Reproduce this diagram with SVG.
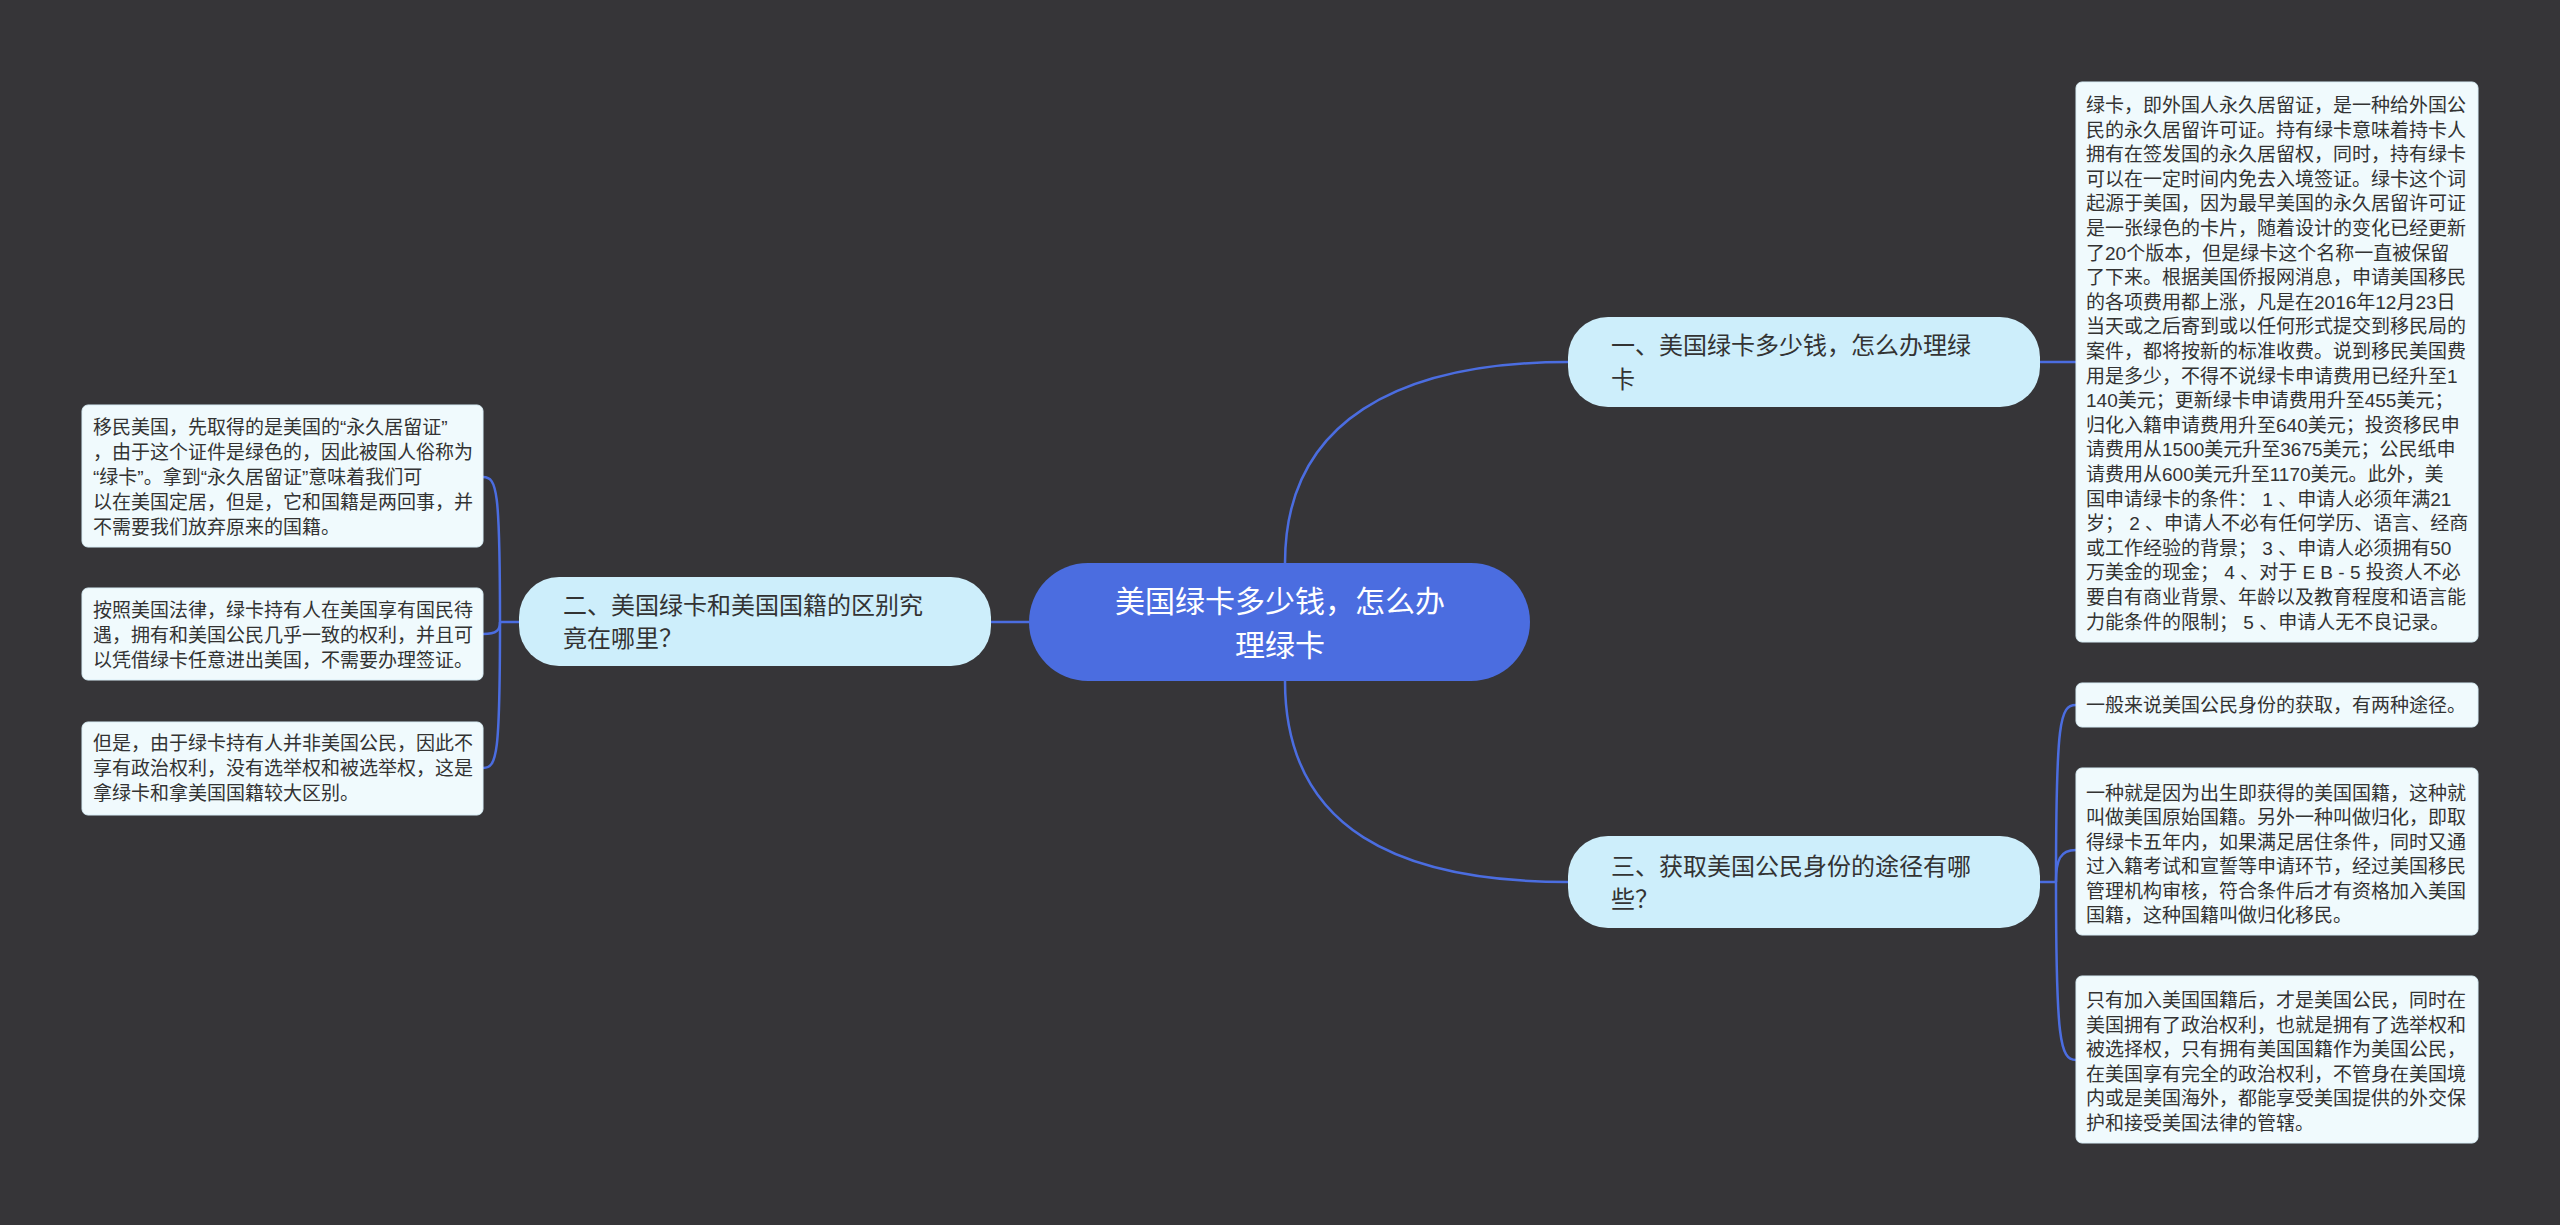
<svg xmlns="http://www.w3.org/2000/svg" width="2560" height="1225" viewBox="0 0 2560 1225">
<style>
.leaf{fill:#f0fafd;stroke:#d9eef6;stroke-width:1}
.sub{fill:#cdeefb}
.lt{font-family:"Liberation Sans","Noto Sans CJK SC",sans-serif;font-size:19px;fill:#333}
.st{font-family:"Liberation Sans","Noto Sans CJK SC",sans-serif;font-size:24px;fill:#333}
.ct{font-family:"Liberation Sans","Noto Sans CJK SC",sans-serif;font-size:30px;fill:#fff;text-anchor:middle}
.c{fill:none;stroke:#4b6de0;stroke-width:2.5}
</style>
<rect width="2560" height="1225" fill="#363538"/>
<g id="connectors">
<path class="c" d="M1285 563 C1285 420 1400 362 1568 362"/>
<path class="c" d="M1285 681 C1285 830 1400 882 1568 882"/>
<path class="c" d="M1029 622 L991 622"/>
<path class="c" d="M2040 362 L2076 362"/>
<path class="c" d="M2040 882 L2056 882"/>
<path class="c" d="M2056 882 C2056 720 2060 705 2076 705"/>
<path class="c" d="M2056 882 C2056 860 2060 850 2076 850"/>
<path class="c" d="M2056 882 C2056 1040 2060 1060 2076 1060"/>
<path class="c" d="M519 622 L500 622"/>
<path class="c" d="M500 622 C500 490 497 477 483 477"/>
<path class="c" d="M500 622 C500 630 497 634 483 634"/>
<path class="c" d="M500 622 C500 755 497 768 483 768"/>
</g>
<g id="center">
<rect x="1029" y="563" width="501" height="118" rx="59" fill="#4b6de0"/>
<text class="ct" x="1280" y="612">美国绿卡多少钱，怎么办</text>
<text class="ct" x="1280" y="656">理绿卡</text>
</g>
<g id="n1">
<rect class="sub" x="1568" y="317" width="472" height="90" rx="40"/>
<text class="st" x="1611" y="354">一、美国绿卡多少钱，怎么办理绿</text>
<text class="st" x="1611" y="388">卡</text>
</g>
<g id="n2">
<rect class="sub" x="519" y="577" width="472" height="89" rx="40"/>
<text class="st" x="563" y="614">二、美国绿卡和美国国籍的区别究</text>
<text class="st" x="563" y="647">竟在哪里？</text>
</g>
<g id="n3">
<rect class="sub" x="1568" y="836" width="472" height="92" rx="40"/>
<text class="st" x="1611" y="875">三、获取美国公民身份的途径有哪</text>
<text class="st" x="1611" y="908">些？</text>
</g>
<g id="r1">
<rect class="leaf" x="2076" y="82" width="402" height="560" rx="6"/>
<text class="lt" x="2086" y="112">绿卡，即外国人永久居留证，是一种给外国公</text>
<text class="lt" x="2086" y="136.6">民的永久居留许可证。持有绿卡意味着持卡人</text>
<text class="lt" x="2086" y="161.2">拥有在签发国的永久居留权，同时，持有绿卡</text>
<text class="lt" x="2086" y="185.8">可以在一定时间内免去入境签证。绿卡这个词</text>
<text class="lt" x="2086" y="210.4">起源于美国，因为最早美国的永久居留许可证</text>
<text class="lt" x="2086" y="235">是一张绿色的卡片，随着设计的变化已经更新</text>
<text class="lt" x="2086" y="259.6">了20个版本，但是绿卡这个名称一直被保留</text>
<text class="lt" x="2086" y="284.2">了下来。根据美国侨报网消息，申请美国移民</text>
<text class="lt" x="2086" y="308.8">的各项费用都上涨，凡是在2016年12月23日</text>
<text class="lt" x="2086" y="333.4">当天或之后寄到或以任何形式提交到移民局的</text>
<text class="lt" x="2086" y="358">案件，都将按新的标准收费。说到移民美国费</text>
<text class="lt" x="2086" y="382.6">用是多少，不得不说绿卡申请费用已经升至1</text>
<text class="lt" x="2086" y="407.2">140美元；更新绿卡申请费用升至455美元；</text>
<text class="lt" x="2086" y="431.8">归化入籍申请费用升至640美元；投资移民申</text>
<text class="lt" x="2086" y="456.4">请费用从1500美元升至3675美元；公民纸申</text>
<text class="lt" x="2086" y="481">请费用从600美元升至1170美元。此外，美</text>
<text class="lt" x="2086" y="505.6">国申请绿卡的条件： 1 、申请人必须年满21</text>
<text class="lt" x="2086" y="530.2">岁； 2 、申请人不必有任何学历、语言、经商</text>
<text class="lt" x="2086" y="554.8">或工作经验的背景； 3 、申请人必须拥有50</text>
<text class="lt" x="2086" y="579.4">万美金的现金； 4 、对于 E B - 5 投资人不必</text>
<text class="lt" x="2086" y="604">要自有商业背景、年龄以及教育程度和语言能</text>
<text class="lt" x="2086" y="628.6">力能条件的限制； 5 、申请人无不良记录。</text>
</g>
<g id="r2">
<rect class="leaf" x="2076" y="683" width="402" height="44" rx="6"/>
<text class="lt" x="2086" y="712">一般来说美国公民身份的获取，有两种途径。</text>
</g>
<g id="r3">
<rect class="leaf" x="2076" y="768" width="402" height="167" rx="6"/>
<text class="lt" x="2086" y="800">一种就是因为出生即获得的美国国籍，这种就</text>
<text class="lt" x="2086" y="824.4">叫做美国原始国籍。另外一种叫做归化，即取</text>
<text class="lt" x="2086" y="848.8">得绿卡五年内，如果满足居住条件，同时又通</text>
<text class="lt" x="2086" y="873.2">过入籍考试和宣誓等申请环节，经过美国移民</text>
<text class="lt" x="2086" y="897.6">管理机构审核，符合条件后才有资格加入美国</text>
<text class="lt" x="2086" y="922">国籍，这种国籍叫做归化移民。</text>
</g>
<g id="r4">
<rect class="leaf" x="2076" y="976" width="402" height="167" rx="6"/>
<text class="lt" x="2086" y="1007">只有加入美国国籍后，才是美国公民，同时在</text>
<text class="lt" x="2086" y="1031.6">美国拥有了政治权利，也就是拥有了选举权和</text>
<text class="lt" x="2086" y="1056.2">被选择权，只有拥有美国国籍作为美国公民，</text>
<text class="lt" x="2086" y="1080.8">在美国享有完全的政治权利，不管身在美国境</text>
<text class="lt" x="2086" y="1105.4">内或是美国海外，都能享受美国提供的外交保</text>
<text class="lt" x="2086" y="1130">护和接受美国法律的管辖。</text>
</g>
<g id="l1">
<rect class="leaf" x="82" y="405" width="401" height="142" rx="6"/>
<text class="lt" x="93" y="434">移民美国，先取得的是美国的“永久居留证”</text>
<text class="lt" x="93" y="459">，由于这个证件是绿色的，因此被国人俗称为</text>
<text class="lt" x="93" y="484">“绿卡”。拿到“永久居留证”意味着我们可</text>
<text class="lt" x="93" y="509">以在美国定居，但是，它和国籍是两回事，并</text>
<text class="lt" x="93" y="534">不需要我们放弃原来的国籍。</text>
</g>
<g id="l2">
<rect class="leaf" x="82" y="588" width="401" height="92" rx="6"/>
<text class="lt" x="93" y="617">按照美国法律，绿卡持有人在美国享有国民待</text>
<text class="lt" x="93" y="642">遇，拥有和美国公民几乎一致的权利，并且可</text>
<text class="lt" x="93" y="667">以凭借绿卡任意进出美国，不需要办理签证。</text>
</g>
<g id="l3">
<rect class="leaf" x="82" y="722" width="401" height="93" rx="6"/>
<text class="lt" x="93" y="750">但是，由于绿卡持有人并非美国公民，因此不</text>
<text class="lt" x="93" y="775">享有政治权利，没有选举权和被选举权，这是</text>
<text class="lt" x="93" y="800">拿绿卡和拿美国国籍较大区别。</text>
</g>
</svg>
